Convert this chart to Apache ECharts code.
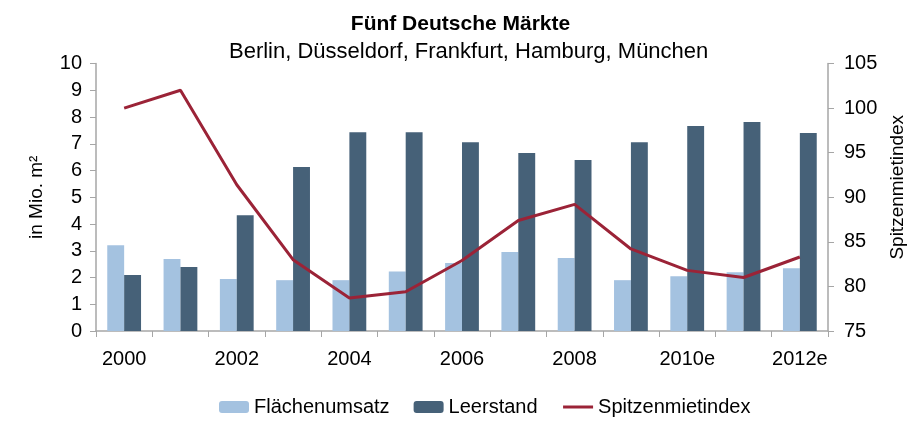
<!DOCTYPE html>
<html>
<head>
<meta charset="utf-8">
<script src="https://cdn.jsdelivr.net/npm/echarts@6/dist/echarts.min.js"></script>
<style>
    html, body { margin: 0; padding: 0; background: #fff; }
    #chart { width: 921px; height: 429px; }
</style>
</head>
<body>
<div id="chart"></div>
<script>
// Jahre (e = erwartet)
const years = ['2000', '2001', '2002', '2003', '2004', '2005', '2006', '2007', '2008', '2009', '2010e', '2011e', '2012e']
// in Mio. m²
const flaechenumsatz = [3.21, 2.69, 1.94, 1.9, 1.9, 2.22, 2.54, 2.95, 2.73, 1.9, 2.05, 2.2, 2.35]
const leerstand = [2.09, 2.39, 4.33, 6.13, 7.43, 7.43, 7.06, 6.65, 6.39, 7.06, 7.66, 7.81, 7.4]
// Index, rechte Achse
const spitzenmietindex = [100, 102, 91.4, 83.0, 78.7, 79.4, 82.9, 87.4, 89.2, 84.2, 81.8, 81.0, 83.3]

const fontFamily = '"Liberation Sans", Arial, sans-serif'
const axisGrey = '#a6a6a6'

const chart = echarts.init(document.getElementById('chart'))

const option = {
    textStyle: {
        fontFamily: fontFamily,
        color: '#000'
    },
    title: [
        {
            text: 'Fünf Deutsche Märkte',
            left: 'center',
            top: 9,
            textStyle: {
                fontFamily: fontFamily,
                fontSize: 21,
                fontWeight: 'bold',
                color: '#000'
            }
        },
        {
            text: 'Berlin, Düsseldorf, Frankfurt, Hamburg, München',
            left: 224,
            top: 36,
            textStyle: {
                fontFamily: fontFamily,
                fontSize: 22,
                fontWeight: 'normal',
                color: '#000'
            }
        }
    ],
    legend: {
        data: [
            'Flächenumsatz',
            'Leerstand',
            // nur die Linie, kein Punkt im Legendensymbol
            {
                name: 'Spitzenmietindex',
                itemStyle: { opacity: 0 },
                lineStyle: { width: 3 }
            }
        ],
        left: 214,
        top: 392,
        itemWidth: 30,
        itemHeight: 12,
        itemGap: 24,
        textStyle: {
            fontFamily: fontFamily,
            fontSize: 20,
            color: '#000'
        }
    },
    grid: {
        left: 96,
        right: 93,
        top: 63.5,
        bottom: 98
    },
    xAxis: {
        type: 'category',
        data: years,
        axisLine: {
            lineStyle: { color: axisGrey, width: 1.5 }
        },
        axisTick: {
            show: true,
            interval: 0,
            length: 6,
            lineStyle: { color: axisGrey }
        },
        axisLabel: {
            interval: 1,
            margin: 18,
            fontSize: 20,
            color: '#000'
        },
        splitLine: { show: false }
    },
    yAxis: [
        {
            type: 'value',
            min: 0,
            max: 10,
            interval: 1,
            name: 'in Mio. m²',
            nameLocation: 'middle',
            nameRotate: 90,
            nameGap: 50,
            nameTextStyle: {
                fontSize: 19,
                color: '#000'
            },
            axisLine: {
                show: true,
                lineStyle: { color: axisGrey, width: 1.5 }
            },
            axisTick: {
                show: true,
                length: 6,
                lineStyle: { color: axisGrey }
            },
            axisLabel: {
                margin: 14,
                fontSize: 20,
                color: '#000'
            },
            splitLine: { show: false }
        },
        {
            type: 'value',
            min: 75,
            max: 105,
            interval: 5,
            position: 'right',
            name: 'Spitzenmietindex',
            nameLocation: 'middle',
            nameRotate: 90,
            nameGap: 56,
            nameTextStyle: {
                fontSize: 19,
                color: '#000',
                padding: [0, 0, 0, 20]
            },
            axisLine: {
                show: true,
                lineStyle: { color: axisGrey, width: 1.5 }
            },
            axisTick: {
                show: true,
                length: 6,
                lineStyle: { color: axisGrey }
            },
            axisLabel: {
                margin: 16,
                fontSize: 20,
                color: '#000'
            },
            splitLine: { show: false }
        }
    ],
    series: [
        {
            name: 'Flächenumsatz',
            type: 'bar',
            data: flaechenumsatz,
            barGap: '0%',
            barCategoryGap: '40%',
            itemStyle: { color: '#a4c2e0' }
        },
        {
            name: 'Leerstand',
            type: 'bar',
            data: leerstand,
            barGap: '0%',
            barCategoryGap: '40%',
            itemStyle: { color: '#466178' }
        },
        {
            name: 'Spitzenmietindex',
            type: 'line',
            yAxisIndex: 1,
            data: spitzenmietindex,
            symbol: 'none',
            lineStyle: { color: '#9b2337', width: 3 },
            itemStyle: { color: '#9b2337' }
        }
    ]
}

chart.setOption(option)
</script>
</body>
</html>
